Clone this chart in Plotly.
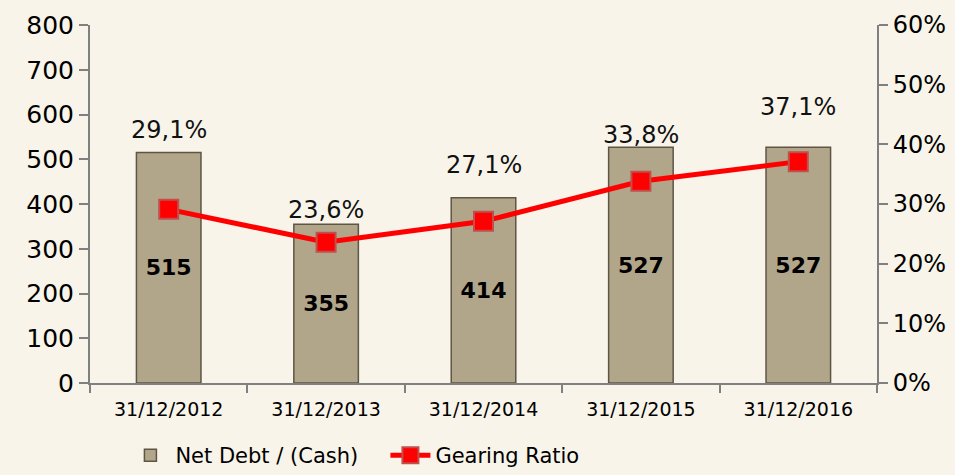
import plotly.graph_objects as go

# Data
dates = ["31/12/2012", "31/12/2013", "31/12/2014", "31/12/2015", "31/12/2016"]
net_debt = [515, 355, 414, 527, 527]
gearing = [29.1, 23.6, 27.1, 33.8, 37.1]
left_ticks = [0, 100, 200, 300, 400, 500, 600, 700, 800]
right_ticks = [0, 10, 20, 30, 40, 50, 60]

# vertical pixel offsets of the gearing labels above their markers
label_shift = [79, 32, 56, 46, 55]

bg = "#F8F4E9"
axis_grey = "#808080"
font_main = "DejaVu Sans"

fig = go.Figure()

fig.add_trace(go.Bar(
    x=dates, y=net_debt, name="Net Debt / (Cash)",
    marker=dict(color="#B2A68A", line=dict(color="#5E5545", width=1.5)),
    text=[f"<b>{v}</b>" for v in net_debt],
    textposition="inside", insidetextanchor="middle",
    textfont=dict(family=font_main, size=22, color="#000000"),
    yaxis="y", width=0.41,
))

fig.add_trace(go.Scatter(
    x=dates, y=gearing, name="Gearing Ratio", mode="lines+markers",
    line=dict(color="#FF0000", width=5),
    marker=dict(symbol="square", size=19, color="#FF0000",
                line=dict(color="#C0504D", width=2)),
    yaxis="y2",
))

for d, g, s in zip(dates, gearing, label_shift):
    fig.add_annotation(
        x=d, y=g, xref="x", yref="y2", yshift=s,
        text=f"{g:.1f}%".replace(".", ","), showarrow=False,
        font=dict(family=font_main, size=24, color="#111111"),
    )

fig.update_layout(
    width=955, height=475,
    margin=dict(l=90, r=78, t=25, b=92, autoexpand=False),
    paper_bgcolor=bg, plot_bgcolor=bg,
    bargap=0.59,
    showlegend=True,
    legend=dict(orientation="h", x=0.045, y=-0.26, xanchor="left", yanchor="bottom",
                font=dict(family=font_main, size=21, color="#000000"),
                bgcolor="rgba(0,0,0,0)", itemwidth=40,
                entrywidth=205, entrywidthmode="pixels"),
    xaxis=dict(
        type="category", showline=True, linecolor=axis_grey, linewidth=2,
        ticks="outside", tickson="boundaries", ticklen=8, tickcolor=axis_grey,
        tickwidth=2, showgrid=False, automargin=False, ticklabelstandoff=8,
        tickfont=dict(family=font_main, size=19, color="#000000"),
    ),
    yaxis=dict(
        range=[0, 800], tickvals=left_ticks, showline=True, linecolor=axis_grey,
        linewidth=2, ticks="outside", ticklen=9, tickcolor=axis_grey, tickwidth=2,
        showgrid=False, zeroline=False, automargin=False,
        tickfont=dict(family=font_main, size=25, color="#000000"),
    ),
    yaxis2=dict(
        range=[0, 60], tickvals=right_ticks,
        ticktext=[f"{t}%" for t in right_ticks], overlaying="y",
        side="right", showline=True, linecolor=axis_grey, linewidth=2,
        ticks="outside", ticklen=9, tickcolor=axis_grey, tickwidth=2,
        showgrid=False, zeroline=False, automargin=False,
        tickfont=dict(family=font_main, size=24, color="#000000"),
    ),
)

fig.write_html("out.html")
